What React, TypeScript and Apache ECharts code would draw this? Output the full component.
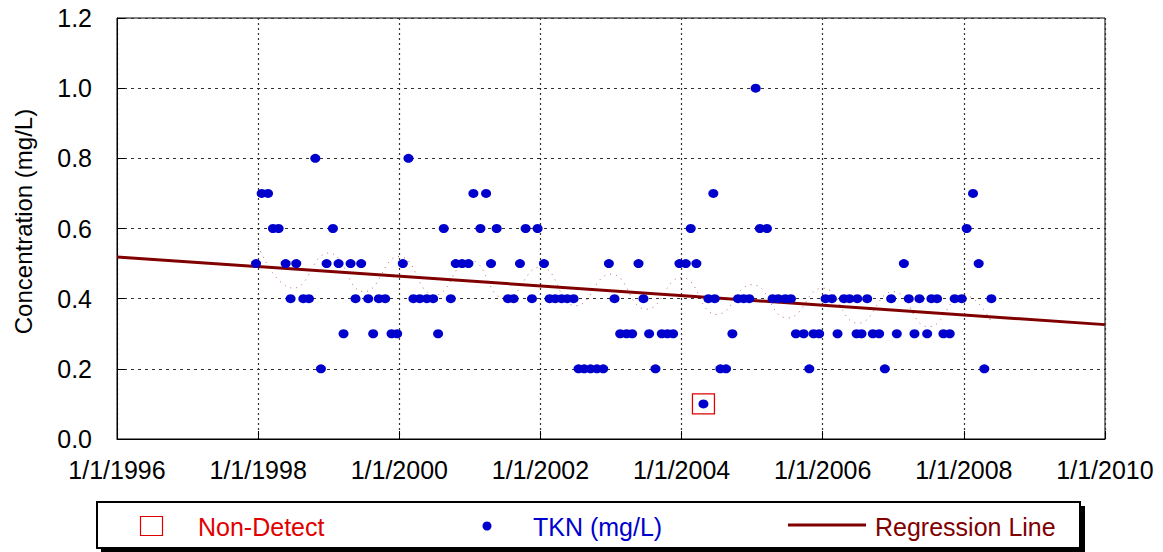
import React, { useEffect, useRef } from "react";
import * as echarts from "echarts";

// TKN samples (decimal year, mg/L)
const tknDates = [
  1997.97, 1998.05, 1998.14, 1998.21, 1998.29, 1998.39, 1998.46, 1998.54, 1998.64, 1998.72,
  1998.81, 1998.89, 1998.97, 1999.06, 1999.14, 1999.21, 1999.31, 1999.38, 1999.46, 1999.56,
  1999.63, 1999.71, 1999.8, 1999.89, 1999.97, 2000.05, 2000.13, 2000.2, 2000.29, 2000.39,
  2000.48, 2000.55, 2000.63, 2000.73, 2000.8, 2000.89, 2000.98, 2001.05, 2001.15, 2001.23,
  2001.3, 2001.38, 2001.54, 2001.62, 2001.71, 2001.79, 2001.88, 2001.96, 2002.05, 2002.13,
  2002.21, 2002.3, 2002.38, 2002.47, 2002.54, 2002.62, 2002.71, 2002.8, 2002.89, 2002.97,
  2003.05, 2003.13, 2003.22, 2003.3, 2003.39, 2003.46, 2003.54, 2003.63, 2003.72, 2003.8,
  2003.88, 2003.97, 2004.06, 2004.13, 2004.21, 2004.31, 2004.38, 2004.45, 2004.47, 2004.55,
  2004.63, 2004.72, 2004.8, 2004.88, 2004.96, 2005.05, 2005.11, 2005.21, 2005.29, 2005.37,
  2005.47, 2005.55, 2005.62, 2005.73, 2005.81, 2005.87, 2005.95, 2006.04, 2006.13, 2006.21,
  2006.3, 2006.38, 2006.48, 2006.49, 2006.55, 2006.63, 2006.71, 2006.8, 2006.88, 2006.97,
  2007.05, 2007.15, 2007.22, 2007.3, 2007.37, 2007.48, 2007.54, 2007.62, 2007.71, 2007.8,
  2007.87, 2007.97, 2008.04, 2008.13, 2008.21, 2008.29, 2008.39,
];
const tknValues = [
  0.5, 0.7, 0.7, 0.6, 0.6, 0.5, 0.4, 0.5, 0.4, 0.4,
  0.8, 0.2, 0.5, 0.6, 0.5, 0.3, 0.5, 0.4, 0.5, 0.4,
  0.3, 0.4, 0.4, 0.3, 0.3, 0.5, 0.8, 0.4, 0.4, 0.4,
  0.4, 0.3, 0.6, 0.4, 0.5, 0.5, 0.5, 0.7, 0.6, 0.7,
  0.5, 0.6, 0.4, 0.4, 0.5, 0.6, 0.4, 0.6, 0.5, 0.4,
  0.4, 0.4, 0.4, 0.4, 0.2, 0.2, 0.2, 0.2, 0.2, 0.5,
  0.4, 0.3, 0.3, 0.3, 0.5, 0.4, 0.3, 0.2, 0.3, 0.3,
  0.3, 0.5, 0.5, 0.6, 0.5, 0.1, 0.4, 0.7, 0.4, 0.2,
  0.2, 0.3, 0.4, 0.4, 0.4, 1.0, 0.6, 0.6, 0.4, 0.4,
  0.4, 0.4, 0.3, 0.3, 0.2, 0.3, 0.3, 0.4, 0.4, 0.3,
  0.4, 0.4, 0.3, 0.4, 0.3, 0.4, 0.3, 0.3, 0.2, 0.4,
  0.3, 0.5, 0.4, 0.3, 0.4, 0.3, 0.4, 0.4, 0.3, 0.3,
  0.4, 0.4, 0.6, 0.7, 0.5, 0.2, 0.4,
];

// Non-detect samples
const ndDates = [2004.31];
const ndValues = [0.1];

// Regression line end points
const regDates = [1996, 2010];
const regValues = [0.519, 0.326];

// Seasonal fit (dotted), read at peaks and troughs
const seasonalDates = [
  1998.0, 1998.5, 1999.0, 1999.5, 2000.0, 2000.5, 2001.0, 2001.5, 2002.0, 2002.5, 2003.0,
  2003.5, 2004.0, 2004.5, 2005.0, 2005.5, 2006.0, 2006.5, 2007.0, 2007.5, 2008.0, 2008.4,
];
const seasonalValues = [
  0.55, 0.43, 0.53, 0.42, 0.52, 0.41, 0.51, 0.4, 0.49, 0.38, 0.47,
  0.37, 0.46, 0.355, 0.44, 0.345, 0.43, 0.33, 0.42, 0.32, 0.41, 0.33,
];

const xTickYears = [1996, 1998, 2000, 2002, 2004, 2006, 2008, 2010];
const yTicks = [0, 0.2, 0.4, 0.6, 0.8, 1.0, 1.2];

const FONT = "'Liberation Sans', Arial, sans-serif";
const BLUE = "#0000CC";
const RED = "#E00000";
const DARKRED = "#800000";

export default function App() {
  const ref = useRef<HTMLDivElement>(null);
  useEffect(() => {
    if (!ref.current) return;
    const chart = echarts.init(ref.current, null, { renderer: "svg" });
    const zip = (a: number[], b: number[]) => a.map((v, i) => [v, b[i]]);
    chart.setOption({
      animation: false,
      backgroundColor: "#fff",
      textStyle: { fontFamily: FONT },
      grid: {
        left: 117,
        right: 58,
        top: 18,
        bottom: 113,
        show: true,
        borderColor: "#000",
        borderWidth: 1,
        backgroundColor: "transparent",
      },
      xAxis: {
        type: "value",
        min: xTickYears[0],
        max: xTickYears[xTickYears.length - 1],
        interval: 2,
        axisLine: { show: true, lineStyle: { color: "#000", width: 1 } },
        axisTick: { show: true, inside: true, length: 8, lineStyle: { color: "#000" } },
        axisLabel: {
          margin: 18,
          fontSize: 25,
          color: "#000",
          fontFamily: FONT,
          formatter: (v: number) => `1/1/${v}`,
        },
        splitLine: { show: true, lineStyle: { color: "#333", type: [2, 3], width: 1.2 } },
      },
      yAxis: {
        type: "value",
        min: yTicks[0],
        max: yTicks[yTicks.length - 1],
        interval: 0.2,
        name: "Concentration (mg/L)",
        nameLocation: "middle",
        nameGap: 82,
        nameTextStyle: { fontSize: 24, color: "#000", fontFamily: FONT, padding: [0, 0, 0, 14] },
        axisLine: { show: true, lineStyle: { color: "#000", width: 1 } },
        axisTick: { show: true, inside: true, length: 8, lineStyle: { color: "#000" } },
        axisLabel: {
          margin: 25,
          fontSize: 25,
          color: "#000",
          fontFamily: FONT,
          formatter: (v: number) => v.toFixed(1),
        },
        splitLine: { show: true, lineStyle: { color: "#333", type: [3, 4], width: 1.2 } },
      },
      series: [
        {
          name: "Seasonal",
          type: "line",
          data: zip(seasonalDates, seasonalValues),
          smooth: 0.5,
          symbol: "none",
          lineStyle: { color: "#b04040", width: 1, type: [1, 5], opacity: 0.8 },
          z: 1,
        },
        {
          name: "Regression Line",
          type: "line",
          data: zip(regDates, regValues),
          symbol: "none",
          lineStyle: { color: DARKRED, width: 3 },
          z: 2,
        },
        {
          name: "TKN (mg/L)",
          type: "scatter",
          data: zip(tknDates, tknValues),
          symbol: "circle",
          symbolSize: [10, 9],
          itemStyle: { color: BLUE, opacity: 1 },
          z: 3,
        },
        {
          name: "Non-Detect",
          type: "scatter",
          data: zip(ndDates, ndValues),
          symbol: "rect",
          symbolSize: [22, 20],
          itemStyle: { color: "rgba(0,0,0,0)", borderColor: RED, borderWidth: 1.2, opacity: 1 },
          z: 4,
        },
      ],
      graphic: [
        { type: "rect", shape: { x: 101, y: 506, width: 984, height: 46 }, style: { fill: "#000" } },
        {
          type: "rect",
          shape: { x: 97, y: 502, width: 983, height: 46 },
          style: { fill: "#fff", stroke: "#000", lineWidth: 2 },
        },
        {
          type: "rect",
          shape: { x: 140.5, y: 516.5, width: 22, height: 19 },
          style: { fill: "none", stroke: RED, lineWidth: 1.2 },
        },
        {
          type: "text",
          x: 198,
          y: 527,
          style: { text: "Non-Detect", fill: RED, fontSize: 25, fontFamily: FONT, verticalAlign: "middle" },
        },
        { type: "circle", shape: { cx: 487, cy: 526, r: 4.5 }, style: { fill: BLUE } },
        {
          type: "text",
          x: 533,
          y: 527,
          style: { text: "TKN (mg/L)", fill: BLUE, fontSize: 25, fontFamily: FONT, verticalAlign: "middle" },
        },
        {
          type: "line",
          shape: { x1: 788, y1: 525, x2: 866, y2: 525 },
          style: { stroke: DARKRED, lineWidth: 3 },
        },
        {
          type: "text",
          x: 875,
          y: 527,
          style: { text: "Regression Line", fill: DARKRED, fontSize: 25, fontFamily: FONT, verticalAlign: "middle" },
        },
      ],
    });
    return () => chart.dispose();
  }, []);
  return (
    <div
      ref={ref}
      style={{ position: "fixed", left: 0, top: 0, width: 1163, height: 552, background: "#fff" }}
    />
  );
}
